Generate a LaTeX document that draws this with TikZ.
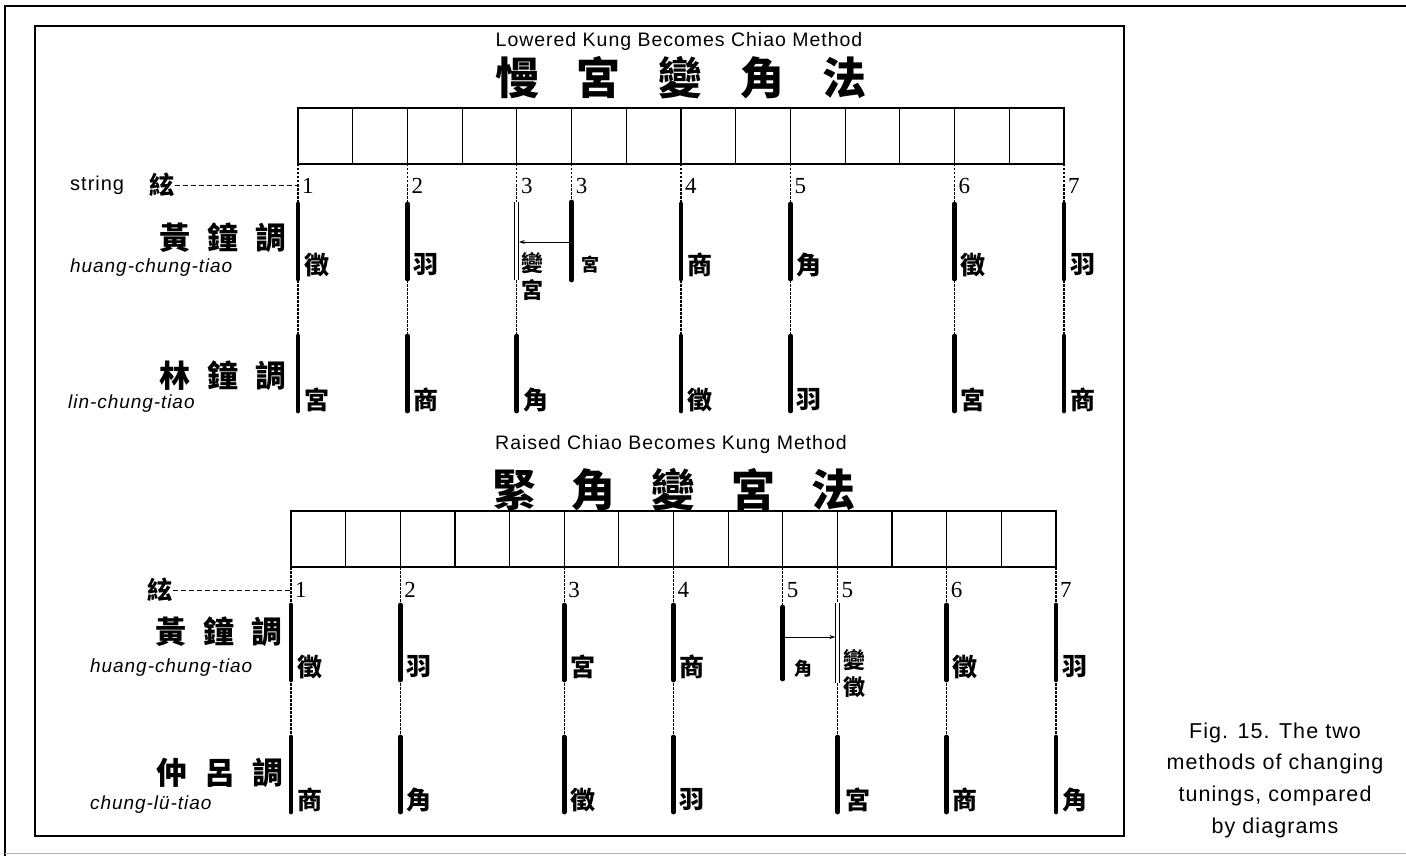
\documentclass[tikz,border=0pt]{standalone}
\usepackage{fontspec}
\setmainfont{Liberation Serif}
\setsansfont[LetterSpace=5]{Liberation Sans}
\newfontfamily\cjk{Noto Sans CJK TC}
\usetikzlibrary{arrows.meta}

\begin{document}
\begin{tikzpicture}[x=1pt, y=-1pt,
    frame/.style = {line width=1.3pt},
    cell/.style = {draw, line width=1.2pt},
    guide/.style = {line width=1.1pt, dash pattern=on 2.5pt off 1.5pt},
    lead/.style = {line width=0.9pt, dash pattern=on 5pt off 3pt},
    bar/.style = {line width=4.8pt, line cap=round},
    hollow/.style = {line width=1.2pt, double=white, double distance=2.8pt},
    retune/.style = {line width=0.9pt, -{Stealth[length=6pt, width=4pt]}, shorten >=2pt},
    heading/.style = {font=\sffamily\fontsize{19.5}{19.5}\selectfont},
    bigname/.style = {font=\cjk\bfseries\fontsize{44}{44}\selectfont},
    tuning/.style = {font=\cjk\bfseries\fontsize{31}{31}\selectfont, anchor=east, inner sep=0},
    roman/.style = {font=\sffamily\itshape\fontsize{19}{19}\selectfont, anchor=west, inner sep=0},
    num/.style = {font=\fontsize{23}{23}\selectfont, anchor=west, inner sep=0},
    note/.style = {font=\cjk\bfseries\fontsize{25}{25}\selectfont, anchor=west, inner sep=0},
    stack/.style = {note, align=center, font=\cjk\bfseries\fontsize{22}{27}\selectfont},
    smallnote/.style = {note, font=\cjk\bfseries\fontsize{18}{18}\selectfont}]
\useasboundingbox (0,0) rectangle (1406,856);

% frames
\draw[frame] (1406,6) -- (5,6) -- (5,856);
\draw[gray!60, line width=0.8pt] (5,853) -- (1406,853);
\draw[frame] (35,26) rectangle (1124,836);
\node[font=\sffamily\fontsize{21.5}{31.7}\selectfont, align=center] (caption) at (1275,780)
    {Fig. 15. The two\\methods of changing\\tunings, compared\\by diagrams};

% lowered kung becomes chiao
\node[heading] (lowered) at (679,41) {Lowered Kung Becomes Chiao Method};
\node[bigname] (manname) at (681,78) {慢\hspace{38pt}宮\hspace{38pt}變\hspace{38pt}角\hspace{38pt}法};
\foreach \i in {0,...,13}
    \draw[cell] ({298+54.71*\i},108) rectangle ({298+54.71*(\i+1)},164);
\foreach \i in {0,...,14}
    \coordinate (t\i) at ({298+54.71*\i},164);

\node[font=\sffamily\fontsize{20}{20}\selectfont, anchor=west, inner sep=0] (string) at (70,185) {string};
\node[note, anchor=center] (xian1) at (162,185) {絃};
\draw[lead] (xian1.east) -- (xian1.east -| t0);
\node[tuning] (huang1) at (287,238) {黃\hspace{17pt}鐘\hspace{17pt}調};
\node[roman] (huang1r) at (70,268) {huang-chung-tiao};
\node[tuning] (lin1) at (287,376) {林\hspace{17pt}鐘\hspace{17pt}調};
\node[roman] (lin1r) at (68,404) {lin-chung-tiao};

\foreach \k/\n/\up/\low in {0/1/徵/宮, 2/2/羽/商, 7/4/商/徵, 9/5/角/羽, 12/6/徵/宮, 14/7/羽/商}{
    \draw[guide] (t\k) -- ++(0,247);
    \path (t\k) ++(4,22) node[num] (tn\k) {\n};
    \draw[bar] (t\k) ++(0,40) -- ++(0,75);
    \draw[bar] (t\k) ++(0,172) -- ++(0,75);
    \path (t\k) ++(6,101) node[note] (tu\k) {\up};
    \path (t\k) ++(6,236) node[note] (tl\k) {\low};
}
% string 3 moves down to the next fret
\draw[guide] (t4) -- ++(0,247);
\path (t4) ++(4,22) node[num] (tn4) {3};
\draw[hollow] (t4) ++(0,38) -- ++(0,78);
\draw[bar] (t4) ++(0,172) -- ++(0,75);
\path (t4) ++(4,112) node[stack] (tu4) {變\\宮};
\path (t4) ++(6,236) node[note] (tl4) {角};
\draw[guide] (t5) -- ++(0,40);
\path (t5) ++(4,22) node[num] (tn5) {3};
\draw[bar] (t5) ++(0,38) -- ++(0,78);
\path (t5) ++(10,101) node[smallnote] (tu5) {宮};
\path (t5) ++(0,78) coordinate (kung3);
\path (t4) ++(0,78) coordinate (bian3);
\draw[retune] (kung3) -- (bian3);

% raised chiao becomes kung
\node[heading] (raised) at (671,444) {Raised Chiao Becomes Kung Method};
\node[bigname] (jinname) at (674,490) {緊\hspace{36pt}角\hspace{36pt}變\hspace{36pt}宮\hspace{36pt}法};
\foreach \i in {0,...,13}
    \draw[cell] ({291+54.64*\i},511) rectangle ({291+54.64*(\i+1)},567);
\foreach \i in {0,...,14}
    \coordinate (b\i) at ({291+54.64*\i},567);

\node[note, anchor=center] (xian2) at (160,590) {絃};
\draw[lead] (xian2.east) -- (xian2.east -| b0);
\node[tuning] (huang2) at (283,632) {黃\hspace{17pt}鐘\hspace{17pt}調};
\node[roman] (huang2r) at (90,668) {huang-chung-tiao};
\node[tuning] (zhong2) at (284,773) {仲\hspace{17pt}呂\hspace{17pt}調};
\node[roman] (zhong2r) at (90,805) {chung-lü-tiao};

\foreach \k/\n/\up/\low in {0/1/徵/商, 2/2/羽/角, 5/3/宮/徵, 7/4/商/羽, 12/6/徵/商, 14/7/羽/角}{
    \draw[guide] (b\k) -- ++(0,245);
    \path (b\k) ++(4,23) node[num] (bn\k) {\n};
    \draw[bar] (b\k) ++(0,38) -- ++(0,75);
    \draw[bar] (b\k) ++(0,170) -- ++(0,75);
    \path (b\k) ++(6,100) node[note] (bu\k) {\up};
    \path (b\k) ++(6,233) node[note] (bl\k) {\low};
}
% string 5 moves up to the next fret
\draw[guide] (b9) -- ++(0,40);
\path (b9) ++(4,23) node[num] (bn9) {5};
\draw[bar] (b9) ++(0,40) -- ++(0,72);
\path (b9) ++(12,102) node[smallnote] (bu9) {角};
\draw[guide] (b10) -- ++(0,245);
\path (b10) ++(4,23) node[num] (bn10) {5};
\draw[hollow] (b10) ++(0,36) -- ++(0,80);
\draw[bar] (b10) ++(0,170) -- ++(0,75);
\path (b10) ++(6,107) node[stack] (bu10) {變\\徵};
\path (b10) ++(8,233) node[note] (bl10) {宮};
\path (b9) ++(0,70) coordinate (chiao5);
\path (b10) ++(0,70) coordinate (bian5);
\draw[retune] (chiao5) -- (bian5);
\end{tikzpicture}
\end{document}
